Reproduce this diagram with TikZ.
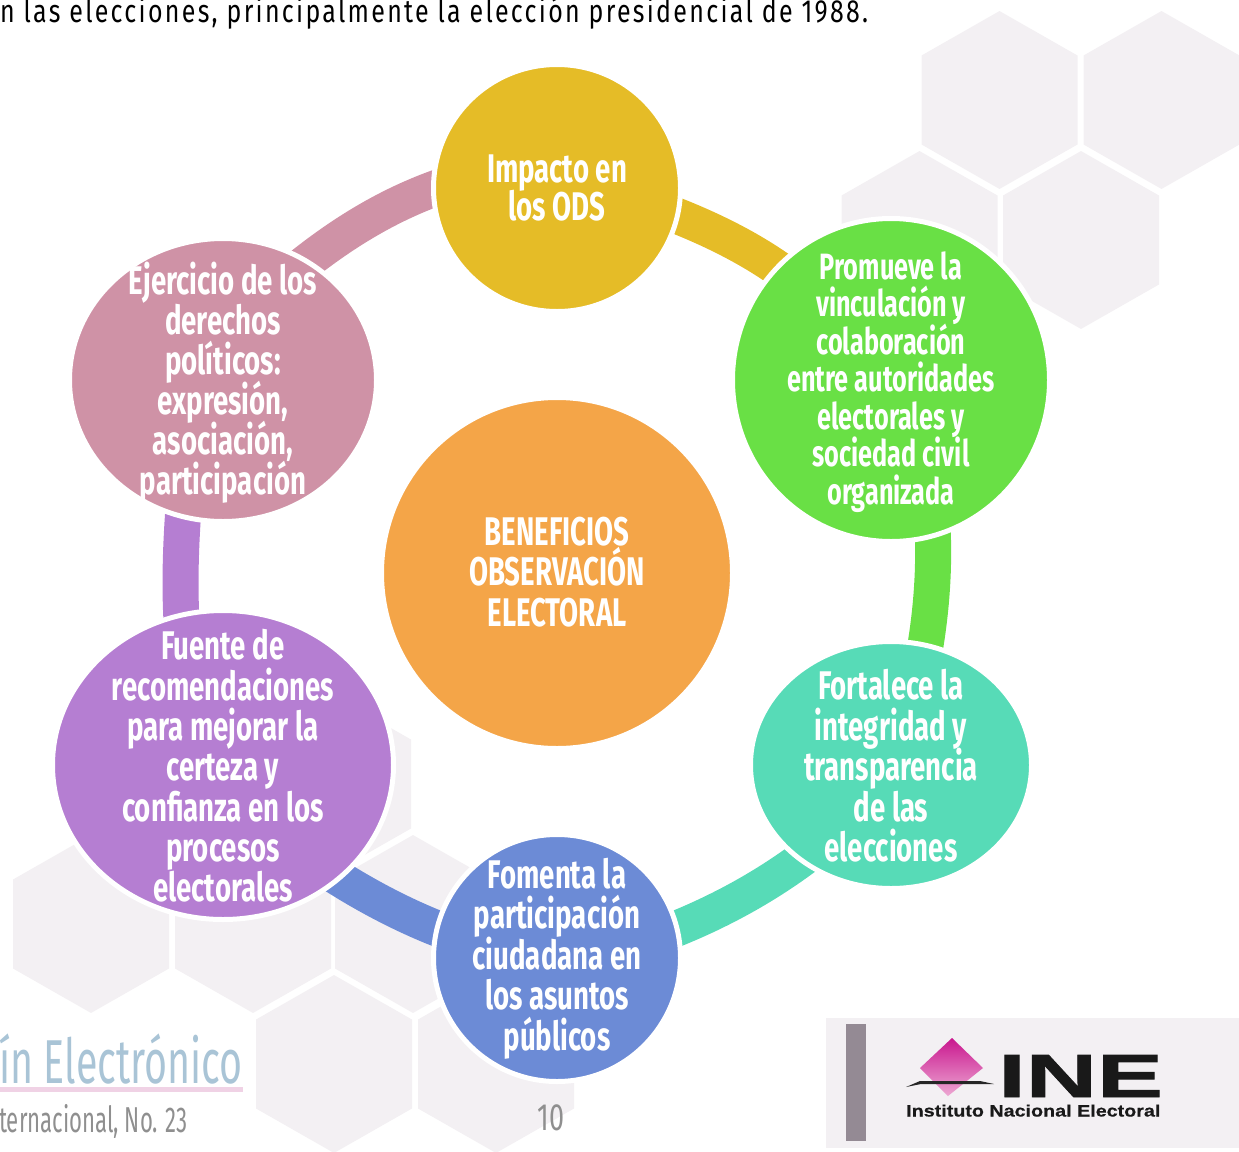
\documentclass[tikz,border=0pt]{standalone}
\usepackage{fontspec}
\setmainfont{Liberation Sans}
\newfontfamily\bubfont[FakeStretch=0.69]{Fira Sans}
\newfontfamily\topfont[FakeStretch=0.78,LetterSpace=7.2]{Fira Sans}
\newfontfamily\titlefont[FakeStretch=0.635]{Fira Sans}
\newfontfamily\footfont[FakeStretch=0.615]{Fira Sans}
\newfontfamily\numfont[FakeStretch=0.71]{Fira Sans}
\newfontfamily\inefont[FakeStretch=1.62,FakeBold=1.5]{Liberation Sans}
\newfontfamily\instfont[FakeStretch=1.195,FakeBold=0.5]{Liberation Sans}
\usetikzlibrary{shapes.geometric}
\AtBeginDocument{\setlength{\lineskiplimit}{-100pt}}
\definecolor{hexc}{HTML}{F3F0F3}
\definecolor{cOrange}{HTML}{F4A548}
\definecolor{cYellow}{HTML}{E5BC27}
\definecolor{cGreen}{HTML}{69E045}
\definecolor{cTeal}{HTML}{57DBB7}
\definecolor{cBlue}{HTML}{6C8BD6}
\definecolor{cPurple}{HTML}{B57ED2}
\definecolor{cPink}{HTML}{CF92A6}
\definecolor{cTitleBlue}{HTML}{A9C4D6}
\definecolor{cRule}{HTML}{F0D2E5}
\definecolor{cGrayT}{HTML}{8F8F8F}
\definecolor{cBar}{HTML}{948A94}
\definecolor{cLogoTop}{HTML}{C9168E}
\definecolor{cLogoBot}{HTML}{EDA8D3}
\newcommand{\hexa}[2]{\fill[hexc] (#1,#2) ++(0,-89) -- ++(78,44.5) -- ++(0,89) -- ++(-78,44.5) -- ++(-78,-44.5) -- ++(0,-89) -- cycle;}
\tikzset{
  bubble/.style={ellipse,draw=white,line width=5pt,fill=#1,inner sep=0pt},
  band/.style={draw=#1,line width=36pt,line cap=butt,line join=bevel},
  lbl/.style={text=white,align=center,inner sep=0pt,font=\bubfont\bfseries\fontsize{40}{#1}\selectfont},
  lblsmall/.style={text=white,align=center,inner sep=0pt,font=\bubfont\bfseries\fontsize{36.6}{#1}\selectfont},
}
\begin{document}
\begin{tikzpicture}[x=1pt,y=-1pt]
\useasboundingbox (0,0) rectangle (1239,1151);
\begin{scope}
\clip (0,0) rectangle (1239,1151);
% background hexagons
\hexa{999.5}{100}\hexa{1161.5}{100}\hexa{919.5}{240}\hexa{1081}{240}
\hexa{333}{784}\hexa{91}{924}\hexa{253}{924}\hexa{413}{924}\hexa{334}{1064}\hexa{496}{1064}
% logo panel
\fill[hexc] (826,1018) rectangle (1239,1148);
\fill[cBar] (846,1024) rectangle (866,1141);
\shade[top color=cLogoTop,bottom color=cLogoBot] (952,1038) -- (983,1068) -- (948,1096) -- (920,1068) -- cycle;
\fill[black!85] (906,1087) -- (920,1081) -- (980,1081) -- (994,1084) -- (980,1084) -- (921,1084) -- cycle;
\node[font=\inefont\bfseries\fontsize{61}{61}\selectfont,inner sep=0pt,anchor=base west,text=black!90] (ineword) at (998,1097) {INE};
\node[font=\instfont\bfseries\fontsize{16.5}{17}\selectfont,inner sep=0pt,anchor=base west,text=black!90] (inename) at (906,1116.5) {Instituto Nacional Electoral};
% top text and footer
\node[font=\topfont\fontsize{32}{32}\selectfont,inner sep=0pt,anchor=base west] (topline) at (0,22) {n las elecciones, principalmente la elección presidencial de 1988.};
\node[font=\titlefont\fontsize{62}{62}\selectfont,text=cTitleBlue,inner sep=0pt,anchor=base east] (boletin) at (243,1083) {ín Electrónico};
\fill[cRule] (0,1087) rectangle (243,1092);
\node[font=\footfont\fontsize{36}{36}\selectfont,text=cGrayT,inner sep=0pt,anchor=base east] (intl) at (188,1132) {ternacional, No. 23};
\node[font=\numfont\fontsize{38}{38}\selectfont,text=cGrayT,inner sep=0pt] (pagenum) at (551,1118) {10};
% node anchors for the ring
\coordinate (nTop) at (557,188);
\coordinate (nRU) at (891,380);
\coordinate (nRL) at (891,765);
\coordinate (nBot) at (557,958);
\coordinate (nLL) at (223,765);
\coordinate (nLU) at (223,380);
% ring bands
\draw[band=cYellow] (nTop) -- (654,207) .. controls (700,224) and (750,246) .. (795,281) -- (nRU);
\draw[band=cGreen] (nRU) -- (931,505) .. controls (936,560) and (932,615) .. (921,670) -- (nRL);
\draw[band=cTeal] (nRL) -- (819,846) .. controls (770,885) and (715,915) .. (655,937) -- (nBot);
\draw[band=cBlue] (nBot) -- (460,937) .. controls (410,920) and (360,893) .. (320,866) -- (nLL);
\draw[band=cPurple] (nLL) -- (183,640) .. controls (179,600) and (180,545) .. (185,490) -- (nLU);
\draw[band=cPink] (nLU) -- (289,276) .. controls (342,232) and (395,200) .. (457,181) -- (nTop);
% bubbles
\node[bubble=cOrange,minimum width=351pt,minimum height=351pt] (hub) at (557,573) {};
\node[bubble=cYellow,minimum width=247pt,minimum height=247pt] (top) at (nTop) {};
\node[bubble=cGreen,minimum width=317pt,minimum height=323pt] (ru) at (nRU) {};
\node[bubble=cTeal,minimum width=281pt,minimum height=247pt] (rl) at (nRL) {};
\node[bubble=cBlue,minimum width=247pt,minimum height=247pt] (bot) at (nBot) {};
\node[bubble=cPurple,minimum width=341pt,minimum height=309pt] (ll) at (nLL) {};
\node[bubble=cPink,minimum width=307pt,minimum height=283pt] (lu) at (nLU) {};
% labels
\node[lbl=40.5] (thub) at (557,572) {BENEFICIOS\\OBSERVACIÓN\\ELECTORAL};
\node[lbl=38] (ttop) at (557,187.5) {Impacto en\\los ODS};
\node[lblsmall=37.5] (tru) at (891,382) {Promueve la\\vinculación y\\colaboración\\entre autoridades\\electorales y\\sociedad civil\\organizada};
\node[lbl=40.5] (trl) at (891,766) {Fortalece la\\integridad y\\transparencia\\de las\\elecciones};
\node[lbl=40.5] (tbot) at (557,958.5) {Fomenta la\\participación\\ciudadana en\\los asuntos\\públicos};
\node[lbl=40.3] (tll) at (223,766) {Fuente de\\recomendaciones\\para mejorar la\\certeza y\\confianza en los\\procesos\\electorales};
\node[lbl=40] (tlu) at (223,383) {Ejercicio de los\\derechos\\políticos:\\expresión,\\asociación,\\participación};
\end{scope}
\end{tikzpicture}
\end{document}
